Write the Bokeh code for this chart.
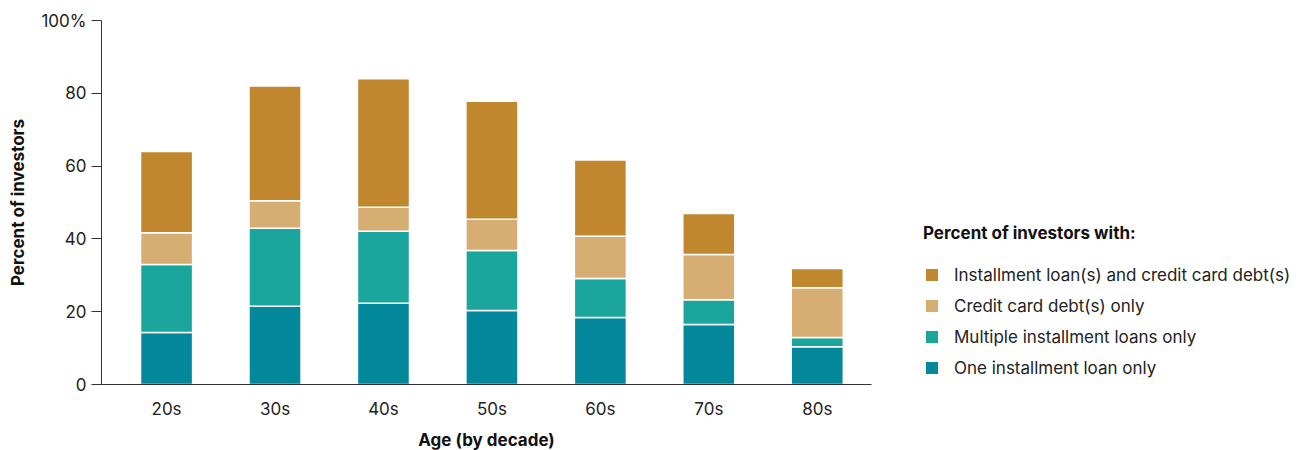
from bokeh.plotting import figure
from bokeh.models import ColumnDataSource, FixedTicker, Legend, LegendItem, Range1d
from bokeh.embed import file_html
from bokeh.resources import INLINE

ages = ["20s", "30s", "40s", "50s", "60s", "70s", "80s"]
one_loan = [14.3, 21.5, 22.3, 20.3, 18.4, 16.5, 10.4]
multiple_loans = [18.7, 21.4, 19.8, 16.5, 10.7, 6.8, 2.5]
credit_only = [8.7, 7.6, 6.6, 8.6, 11.6, 12.4, 13.7]
loan_and_credit = [22.3, 31.5, 35.3, 32.4, 21.0, 11.3, 5.3]

series = ["one", "multi", "credit", "both"]
labels = ["One installment loan only", "Multiple installment loans only",
          "Credit card debt(s) only", "Installment loan(s) and credit card debt(s)"]
colors = ["#03879A", "#1AA59D", "#D6AE73", "#C0872F"]

FONT = "Inter"

source = ColumnDataSource(dict(
    x=list(range(len(ages))),
    one=one_loan, multi=multiple_loans, credit=credit_only, both=loan_and_credit,
))

p = figure(frame_width=770, frame_height=364, output_backend="svg", toolbar_location=None,
           x_range=Range1d(-0.6, 6.5), y_range=Range1d(0, 100),
           min_border_left=101, min_border_right=0, min_border_top=20, min_border_bottom=10)
p.outline_line_color = None
p.xgrid.grid_line_color = None
p.ygrid.grid_line_color = None

renderers = p.vbar_stack(series, x="x", width=0.48, source=source, color=colors,
                         line_color="white", line_width=1.5)

# Y axis
p.yaxis.ticker = FixedTicker(ticks=[0, 20, 40, 60, 80, 100])
p.yaxis.major_label_overrides = {100: "100%"}
p.yaxis.minor_tick_line_color = None
p.yaxis.major_tick_out = 10
p.yaxis.major_tick_in = 0
p.yaxis.major_tick_line_color = "#333333"
p.yaxis.axis_line_color = "#333333"
p.yaxis.major_label_standoff = 5
p.yaxis.major_label_text_font = FONT
p.yaxis.major_label_text_font_size = "17px"
p.yaxis.major_label_text_color = "#222222"
p.yaxis.axis_label = "Percent of investors"
p.yaxis.axis_label_text_font = FONT
p.yaxis.axis_label_text_font_size = "17px"
p.yaxis.axis_label_text_font_style = "bold"
p.yaxis.axis_label_text_color = "#111111"
p.yaxis.axis_label_standoff = 10

# X axis
p.xaxis.ticker = FixedTicker(ticks=list(range(len(ages))))
p.xaxis.major_label_overrides = {i: a for i, a in enumerate(ages)}
p.xaxis.minor_tick_line_color = None
p.xaxis.major_tick_line_color = None
p.xaxis.major_tick_out = 0
p.xaxis.major_tick_in = 0
p.xaxis.axis_line_color = "#333333"
p.xaxis.major_label_standoff = 14
p.xaxis.major_label_text_font = FONT
p.xaxis.major_label_text_font_size = "17px"
p.xaxis.major_label_text_color = "#222222"
p.xaxis.axis_label = "Age (by decade)"
p.xaxis.axis_label_text_font = FONT
p.xaxis.axis_label_text_font_size = "17px"
p.xaxis.axis_label_text_font_style = "bold"
p.xaxis.axis_label_text_color = "#111111"
p.xaxis.axis_label_standoff = 8

items = [LegendItem(label=labels[i], renderers=[renderers[i]]) for i in [3, 2, 1, 0]]
legend = Legend(items=items, location=(52, 6),
                title="Percent of investors with:",
                title_text_font=FONT, title_text_font_size="17px",
                title_text_font_style="bold", title_text_color="#111111",
                title_standoff=21,
                label_text_font=FONT, label_text_font_size="17px",
                label_text_color="#222222",
                glyph_width=17, glyph_height=17, label_height=21, spacing=10,
                label_standoff=14, padding=0, margin=0,
                border_line_alpha=0, background_fill_alpha=0)
p.add_layout(legend, "right")

open("out.html", "w").write(file_html(p, INLINE))
